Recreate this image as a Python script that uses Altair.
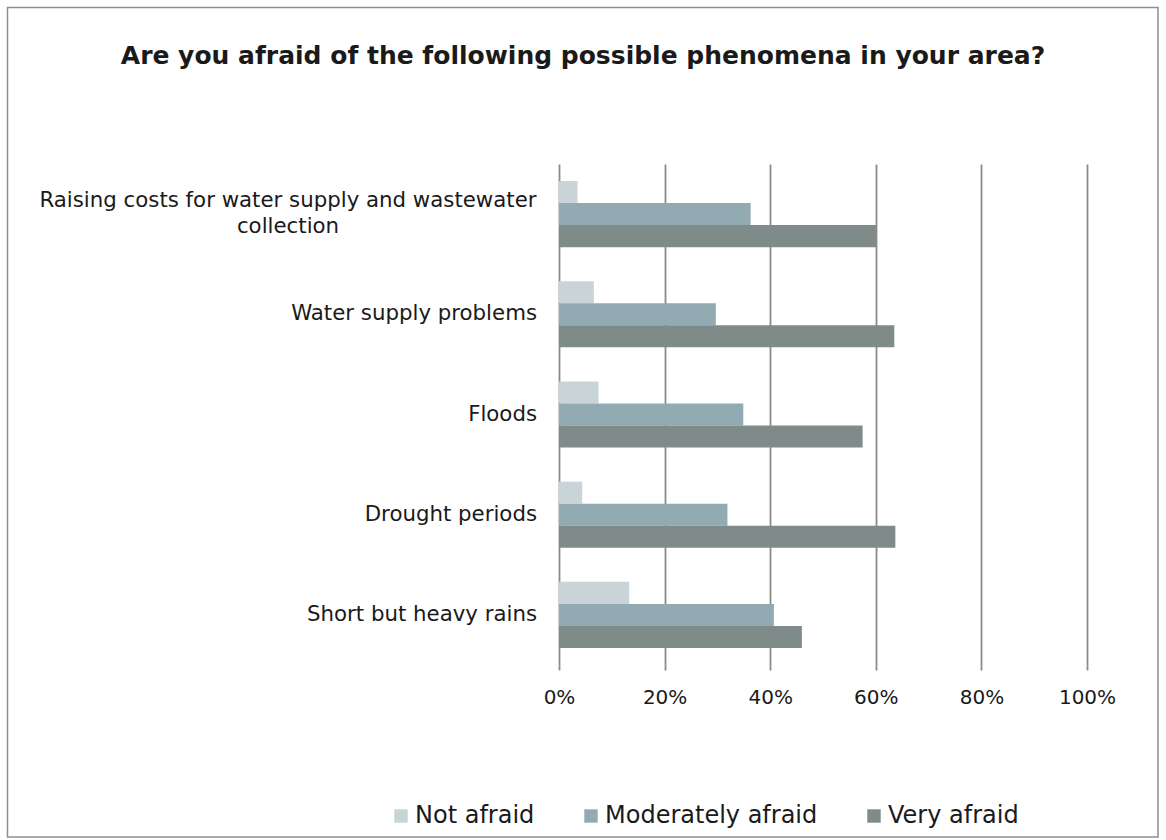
import altair as alt
import pandas as pd

categories = [
    "Raising costs for water supply and wastewater collection",
    "Water supply problems",
    "Floods",
    "Drought periods",
    "Short but heavy rains",
]
series = ["Not afraid", "Moderately afraid", "Very afraid"]
not_afraid = [0.035, 0.066, 0.075, 0.044, 0.133]
moderately_afraid = [0.363, 0.297, 0.349, 0.319, 0.407]
very_afraid = [0.601, 0.635, 0.575, 0.637, 0.460]
colors = ["#C9D4D9", "#92AAB1", "#7F8B89"]
x_ticks = [0, 0.2, 0.4, 0.6, 0.8, 1.0]
wrapped_label = "Raising costs for water supply and wastewater|collection"

rows = []
for i, c in enumerate(categories):
    for s, vals in zip(series, [not_afraid, moderately_afraid, very_afraid]):
        rows.append({"category": c, "series": s, "value": vals[i]})
df = pd.DataFrame(rows)

W, H = 528, 501
PL, PT = 559, 164
PR = 1166 - PL - W
PB = 840 - PT - H
FONT = "DejaVu Sans"
TXT = "#1a1a1a"
GRID = "#8A8A8A"
LBL = 21.3

y_enc = alt.Y(
    "category:N",
    sort=categories,
    scale=alt.Scale(paddingInner=0.34, paddingOuter=0.17),
    axis=None,
)

bars = alt.Chart(df).mark_bar().encode(
    x=alt.X(
        "value:Q",
        scale=alt.Scale(domain=[0, 1], nice=False),
        axis=alt.Axis(
            values=x_ticks,
            format=".0%",
            title=None,
            grid=True,
            gridColor=GRID,
            gridWidth=1.8,
            domain=False,
            ticks=True,
            tickColor=GRID,
            tickWidth=1.8,
            tickSize=5,
            labelFont=FONT,
            labelFontSize=20,
            labelColor=TXT,
            labelPadding=17,
            labelFlush=False,
            labelOverlap=False,
        ),
    ),
    y=y_enc,
    yOffset=alt.YOffset("series:N", sort=series, scale=alt.Scale(paddingInner=0, paddingOuter=0)),
    color=alt.Color(
        "series:N",
        sort=series,
        scale=alt.Scale(domain=series, range=colors),
        legend=alt.Legend(
            title=None,
            orient="none",
            direction="horizontal",
            legendX=389 - PL,
            legendY=804 - PT,
            symbolType="square",
            symbolSize=180,
            symbolStrokeWidth=0,
            labelFont=FONT,
            labelFontSize=24,
            labelColor=TXT,
            labelOffset=2,
            labelLimit=400,
            columnPadding=44,
        ),
    ),
)

single_df = pd.DataFrame({"category": categories[1:], "label": categories[1:]})
single_labels = alt.Chart(single_df).mark_text(
    align="right", baseline="middle", font=FONT, fontSize=LBL, color=TXT
).encode(
    y=y_enc,
    x=alt.value(-22),
    text="label:N",
)

wrapped_df = pd.DataFrame({"category": [categories[0]], "label": [wrapped_label]})
wrapped_labels = alt.Chart(wrapped_df).mark_text(
    align="center", baseline="middle", font=FONT, fontSize=LBL, color=TXT,
    lineBreak="|", lineHeight=26, dy=-13,
).encode(
    y=y_enc,
    x=alt.value(-22 - 249),
    text="label:N",
)

border = alt.Chart(pd.DataFrame({"b": [0]})).mark_rect(
    fill=None, stroke="#8E8E8E", strokeWidth=1.5
).encode(
    x=alt.value(7.5 - PL),
    x2=alt.value(1158 - PL),
    y=alt.value(7.5 - PT),
    y2=alt.value(837 - PT),
)

chart = alt.layer(border, bars, single_labels, wrapped_labels).properties(
    width=W,
    height=H,
    padding={"left": PL, "top": PT, "right": PR, "bottom": PB},
    autosize=alt.AutoSizeParams(type="none"),
    title=alt.TitleParams(
        "Are you afraid of the following possible phenomena in your area?",
        font=FONT,
        fontSize=25,
        fontWeight="bold",
        color=TXT,
        anchor="middle",
        baseline="alphabetic",
        dx=-240,
        dy=46,
        offset=-36,
    ),
).configure_view(stroke=None)

chart.save("out.html", embed_options={"renderer": "svg", "actions": False})
